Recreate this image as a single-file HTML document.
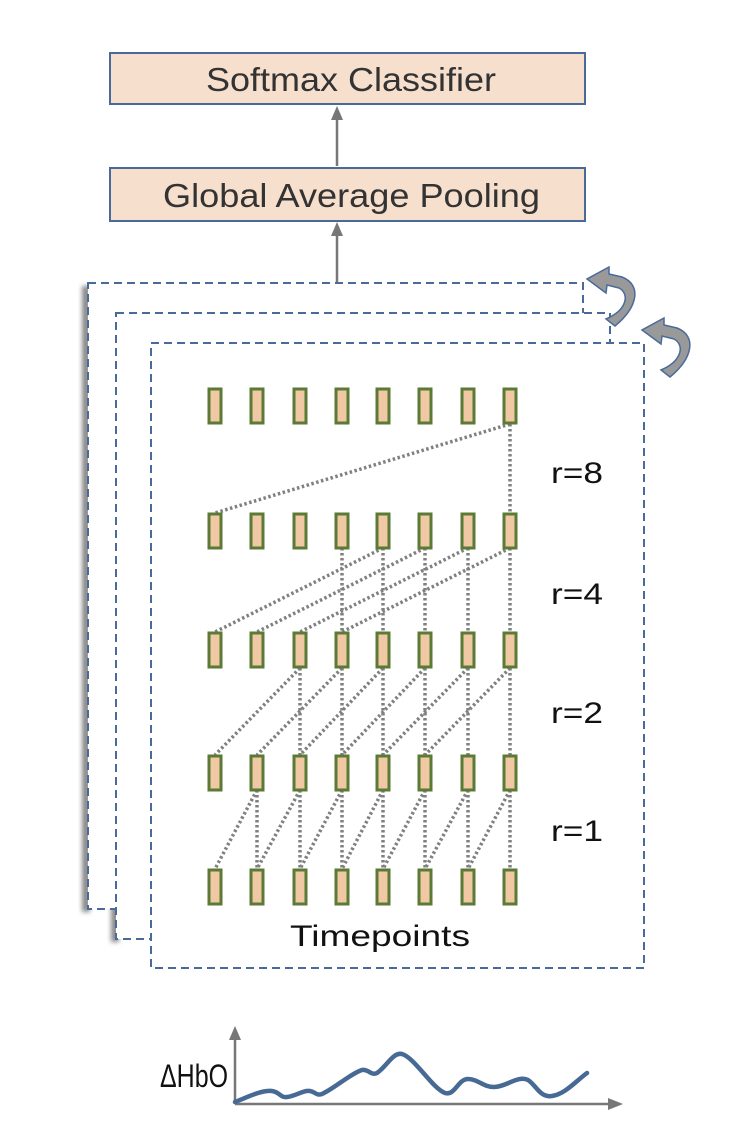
<!DOCTYPE html>
<html><head><meta charset="utf-8"><style>
html,body{margin:0;padding:0;background:#fff;}
svg{display:block;}
text{font-family:"Liberation Sans",sans-serif;}
</style></head><body>
<svg width="752" height="1134" viewBox="0 0 752 1134" xmlns="http://www.w3.org/2000/svg">
<defs>
<filter id="sh" x="-50%" y="-10%" width="200%" height="120%"><feGaussianBlur stdDeviation="2.5"/></filter>
<g id="row"><rect x="209" y="0" width="12" height="34"/><rect x="251" y="0" width="12" height="34"/><rect x="294" y="0" width="12" height="34"/><rect x="336" y="0" width="12" height="34"/><rect x="377" y="0" width="12" height="34"/><rect x="419" y="0" width="12" height="34"/><rect x="462" y="0" width="12" height="34"/><rect x="504" y="0" width="12" height="34"/></g>
</defs>
<rect x="110" y="53" width="475" height="51" fill="#f6dfcd" stroke="#4a6a9a" stroke-width="2"/>
<text x="206" y="91" font-size="33" textLength="290" lengthAdjust="spacingAndGlyphs" fill="#333">Softmax Classifier</text>
<rect x="110" y="168" width="475" height="53" fill="#f6dfcd" stroke="#4a6a9a" stroke-width="2"/>
<text x="163" y="207" font-size="33" textLength="377" lengthAdjust="spacingAndGlyphs" fill="#333">Global Average Pooling</text>
<line x1="337" y1="166" x2="337" y2="114" stroke="#777" stroke-width="2.5"/>
<path d="M331,120 L337,106 L343,120 z" fill="#777"/>
<line x1="337" y1="283" x2="337" y2="230" stroke="#777" stroke-width="2.5"/>
<path d="M331,236 L337,222 L343,236 z" fill="#777"/>
<rect x="82" y="286" width="8" height="626" fill="#888" filter="url(#sh)"/>
<rect x="111" y="316" width="8" height="626" fill="#888" filter="url(#sh)"/>
<rect x="88" y="283" width="495" height="626" fill="#fff" stroke="#4a6a9a" stroke-width="2" stroke-dasharray="8,5"/>
<rect x="116" y="313" width="494" height="626" fill="#fff" stroke="#4a6a9a" stroke-width="2" stroke-dasharray="8,5"/>
<rect x="151" y="343" width="493" height="625" fill="#fff" stroke="#4a6a9a" stroke-width="2" stroke-dasharray="8,5"/>
<g fill="#999" stroke="#4a6a9a" stroke-width="1.5">
<path d="M615,326 C638,307 642,285 622,277 L609,274 L609,267 L587,279 L606,293 L607,285 L619,288 C630,294 627,310 606,319 z"/>
<path d="M670,377 C693,358 697,336 677,328 L664,325 L664,318 L642,330 L661,344 L662,336 L674,339 C685,345 682,361 661,370 z"/>
</g>
<g stroke="#808080" stroke-width="3.5" stroke-dasharray="2.5,2.5" fill="none">
<line x1="510" y1="424" x2="510" y2="513"/><line x1="510" y1="424" x2="215" y2="513"/>
<line x1="383" y1="548" x2="383" y2="632"/><line x1="383" y1="548" x2="215" y2="632"/>
<line x1="342" y1="548" x2="342" y2="632"/>
<line x1="425" y1="548" x2="425" y2="632"/><line x1="425" y1="548" x2="257" y2="632"/>
<line x1="468" y1="548" x2="468" y2="632"/><line x1="468" y1="548" x2="300" y2="632"/>
<line x1="510" y1="548" x2="510" y2="632"/><line x1="510" y1="548" x2="342" y2="632"/>
<line x1="300" y1="668" x2="300" y2="755"/><line x1="300" y1="668" x2="215" y2="755"/>
<line x1="342" y1="668" x2="342" y2="755"/><line x1="342" y1="668" x2="257" y2="755"/>
<line x1="383" y1="668" x2="383" y2="755"/><line x1="383" y1="668" x2="300" y2="755"/>
<line x1="425" y1="668" x2="425" y2="755"/><line x1="425" y1="668" x2="342" y2="755"/>
<line x1="468" y1="668" x2="468" y2="755"/><line x1="468" y1="668" x2="383" y2="755"/>
<line x1="510" y1="668" x2="510" y2="755"/><line x1="510" y1="668" x2="425" y2="755"/>
<line x1="257" y1="790" x2="257" y2="869"/><line x1="257" y1="790" x2="215" y2="869"/>
<line x1="300" y1="790" x2="300" y2="869"/><line x1="300" y1="790" x2="257" y2="869"/>
<line x1="342" y1="790" x2="342" y2="869"/><line x1="342" y1="790" x2="300" y2="869"/>
<line x1="383" y1="790" x2="383" y2="869"/><line x1="383" y1="790" x2="342" y2="869"/>
<line x1="425" y1="790" x2="425" y2="869"/><line x1="425" y1="790" x2="383" y2="869"/>
<line x1="468" y1="790" x2="468" y2="869"/><line x1="468" y1="790" x2="425" y2="869"/>
<line x1="510" y1="790" x2="510" y2="869"/><line x1="510" y1="790" x2="468" y2="869"/>
</g>
<g fill="#f0c8a4" stroke="#5a7a35" stroke-width="3">
<use href="#row" y="389"/><use href="#row" y="514"/><use href="#row" y="633"/><use href="#row" y="756"/><use href="#row" y="870"/>
</g>
<g font-size="30" fill="#111">
<text x="551" y="483" textLength="52" lengthAdjust="spacingAndGlyphs">r=8</text>
<text x="551" y="604" textLength="52" lengthAdjust="spacingAndGlyphs">r=4</text>
<text x="551" y="723" textLength="52" lengthAdjust="spacingAndGlyphs">r=2</text>
<text x="551" y="841" textLength="52" lengthAdjust="spacingAndGlyphs">r=1</text>
<text x="290" y="946" textLength="180" lengthAdjust="spacingAndGlyphs">Timepoints</text>
<text x="160" y="1087" font-size="32" textLength="68" lengthAdjust="spacingAndGlyphs">ΔHbO</text>
</g>
<line x1="235" y1="1104" x2="235" y2="1035" stroke="#777" stroke-width="2.5"/>
<path d="M229,1040 L235,1026 L241,1040 z" fill="#777"/>
<line x1="235" y1="1104" x2="612" y2="1104" stroke="#777" stroke-width="2.5"/>
<path d="M608,1098 L623,1104 L608,1110 z" fill="#777"/>
<path d="M235,1102 C250,1096 262,1090 272,1091 C280,1092 280,1098 287,1097 C296,1096 303,1090 310,1091 C316,1092 316,1096 322,1094 C335,1088 350,1074 362,1070 C369,1069 371,1076 377,1073 C387,1066 393,1052 402,1054 C415,1058 432,1088 445,1093 C455,1096 458,1079 468,1079 C478,1079 483,1087 494,1087 C506,1087 518,1075 528,1080 C536,1085 540,1098 552,1096 C565,1094 575,1082 587,1073" fill="none" stroke="#476a95" stroke-width="4.5" stroke-linecap="round" stroke-linejoin="round"/>
</svg>
</body></html>
